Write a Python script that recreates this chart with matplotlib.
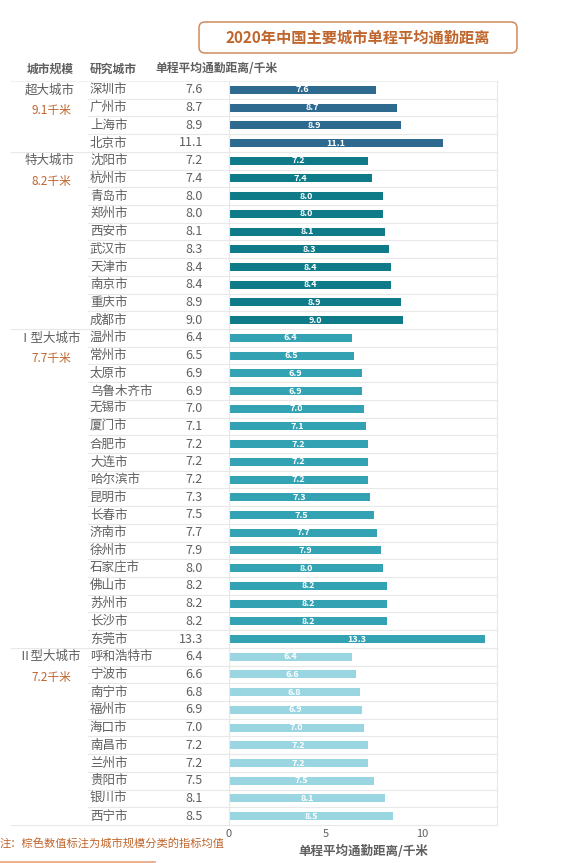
import numpy as np
import matplotlib
matplotlib.use("Agg")
import matplotlib.pyplot as plt
import matplotlib.transforms as mtransforms
from matplotlib.patches import FancyBboxPatch

plt.rcParams['font.family'] = ['Noto Sans CJK SC', 'DejaVu Sans']

# --- data ---
groups = ["超大城市", "特大城市", "Ⅰ型大城市", "Ⅱ型大城市"]
group_avg = ["9.1千米", "8.2千米", "7.7千米", "7.2千米"]
group_colors = ["#2e6990", "#0f7b88", "#33a3b4", "#9ad6e1"]

cities_super = ["深圳市", "广州市", "上海市", "北京市"]
dist_super = [7.6, 8.7, 8.9, 11.1]

cities_mega = ["沈阳市", "杭州市", "青岛市", "郑州市", "西安市",
               "武汉市", "天津市", "南京市", "重庆市", "成都市"]
dist_mega = [7.2, 7.4, 8.0, 8.0, 8.1, 8.3, 8.4, 8.4, 8.9, 9.0]

cities_big1 = ["温州市", "常州市", "太原市", "乌鲁木齐市", "无锡市", "厦门市",
               "合肥市", "大连市", "哈尔滨市", "昆明市", "长春市", "济南市",
               "徐州市", "石家庄市", "佛山市", "苏州市", "长沙市", "东莞市"]
dist_big1 = [6.4, 6.5, 6.9, 6.9, 7.0, 7.1, 7.2, 7.2, 7.2, 7.3, 7.5, 7.7,
             7.9, 8.0, 8.2, 8.2, 8.2, 13.3]

cities_big2 = ["呼和浩特市", "宁波市", "南宁市", "福州市", "海口市",
               "南昌市", "兰州市", "贵阳市", "银川市", "西宁市"]
dist_big2 = [6.4, 6.6, 6.8, 6.9, 7.0, 7.2, 7.2, 7.5, 8.1, 8.5]

group_cities = [cities_super, cities_mega, cities_big1, cities_big2]
group_dists = [dist_super, dist_mega, dist_big1, dist_big2]

GRAY = "#5f5f5f"
BROWN = "#c0652c"
LINE = "#e8e8e8"

W, H = 573, 863
fig = plt.figure(figsize=(W / 100, H / 100), dpi=100)

# background axes in pixel coordinates for table furniture
bg = fig.add_axes([0, 0, 1, 1], zorder=0)
bg.set_xlim(0, W)
bg.set_ylim(H, 0)
bg.axis("off")

# main bar axes
x0, x1, y0, y1 = 229, 497, 81, 825
ax = fig.add_axes([x0 / W, 1 - y1 / H, (x1 - x0) / W, (y1 - y0) / H], zorder=1)
ax.set_facecolor("none")

n_total = sum(len(c) for c in group_cities)
ax.set_ylim(n_total - 0.5, -0.5)
ax.set_xlim(0, 13.9)

# blended: x in pixels, y in data rows
tr = mtransforms.blended_transform_factory(bg.transData, ax.transData)

row = 0
for gi, (cities, dists) in enumerate(zip(group_cities, group_dists)):
    ys = np.arange(row, row + len(cities))
    bars = ax.barh(ys, dists, height=0.45, color=group_colors[gi])
    ax.bar_label(bars, labels=[f"{v:.1f}" for v in dists], label_type="center",
                 color="white", fontsize=6.5, fontweight="bold")
    # group name and average
    bg.text(50, row, groups[gi], transform=tr, ha="center", va="center",
            fontsize=9, color=GRAY)
    bg.text(51, row + 1.15, group_avg[gi], transform=tr, ha="center", va="center",
            fontsize=8.5, color=BROWN)
    for y, c, d in zip(ys, cities, dists):
        bg.text(90, y, c, transform=tr, ha="left", va="center", fontsize=9, color=GRAY)
        bg.text(203, y, f"{d:.1f}", transform=tr, ha="right", va="center",
                fontsize=9, color=GRAY)
        # row separator
        last = (y == ys[-1])
        bg.plot([11 if last else 88, x1], [y + 0.5, y + 0.5], transform=tr,
                color=LINE, lw=0.8)
    row += len(cities)

# top border of table
bg.plot([11, x1], [-0.5, -0.5], transform=tr, color="#f0f0f0", lw=0.8)

# axes styling
for s in ["top", "bottom"]:
    ax.spines[s].set_visible(False)
for s in ["left", "right"]:
    ax.spines[s].set_color(LINE)
    ax.spines[s].set_linewidth(0.8)
ax.set_yticks([])
ax.set_xticks([0, 5, 10])
ax.tick_params(axis="x", length=0, pad=3, labelsize=8, labelcolor=GRAY)
ax.set_xlabel("单程平均通勤距离/千米", fontsize=9, fontweight="bold", color=GRAY,
              labelpad=4)

# column headers
bg.text(50, 69, "城市规模", ha="center", va="center", fontsize=8.5,
        fontweight="bold", color=GRAY)
bg.text(90, 69, "研究城市", ha="left", va="center", fontsize=8.5,
        fontweight="bold", color=GRAY)
bg.text(155, 69, "单程平均通勤距离/千米", ha="left", va="center", fontsize=8.5,
        fontweight="bold", color=GRAY)

# title box
box = FancyBboxPatch((199, 22), 318, 31, boxstyle="round,pad=0,rounding_size=6",
                     fc="white", ec="#d08a5c", lw=1.1)
bg.add_patch(box)
bg.text(358, 38, "2020年中国主要城市单程平均通勤距离", ha="center", va="center",
        fontsize=11, fontweight="bold", color=BROWN)

# note
bg.text(0, 844, "注：棕色数值标注为城市规模分类的指标均值", ha="left", va="center",
        fontsize=8.1, color=BROWN)
bg.plot([0, 155], [862, 862], color="#e8a27a", lw=1.2)

fig.savefig("out.png", dpi=100)
